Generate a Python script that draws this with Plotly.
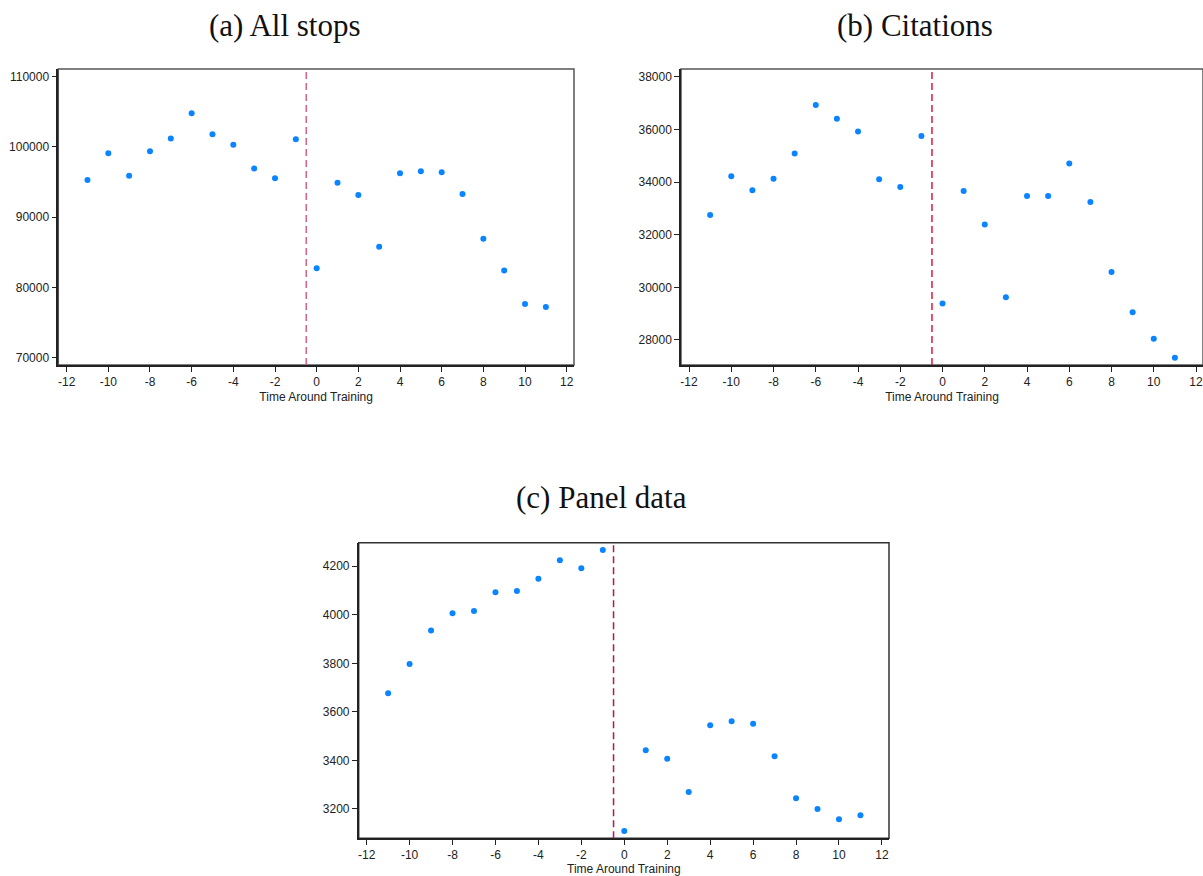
import plotly.graph_objects as go

W, H = 1203, 876

time = list(range(-11, 12))

all_stops = [95300, 99100, 95900, 99400, 101200, 104800, 101800, 100300, 96950, 95550, 101100,
             82750, 94900, 93150, 85800, 96250, 96550, 96400, 93300, 86950, 82400, 77650, 77200]
citations = [32750, 34220, 33690, 34120, 35080, 36920, 36400, 35920, 34100, 33810, 35750,
             29390, 33660, 32390, 29620, 33470, 33470, 34700, 33240, 30580, 29050, 28050, 27330]
panel_data = [3677, 3797, 3935, 4006, 4016, 4093, 4098, 4148, 4225, 4192, 4267,
              3109, 3442, 3407, 3270, 3545, 3561, 3551, 3417, 3244, 3200, 3158, 3174]

x_ticks = list(range(-12, 13, 2))
x_ticklabels = [str(v) for v in x_ticks]
a_ticks = [70000, 80000, 90000, 100000, 110000]
b_ticks = [28000, 30000, 32000, 34000, 36000, 38000]
c_ticks = [3200, 3400, 3600, 3800, 4000, 4200]

panel_titles = ["(a) All stops", "(b) Citations", "(c) Panel data"]
x_title = "Time Around Training"
treat_line = -0.5

marker_color = "#0a84ff"
line_colors = ["#d4628a", "#e0183f", "#b3164c"]


def px_x(p):
    return p / W


def px_y(p):
    return 1 - p / H


# plot areas in pixels: (left, right, top, bottom)
boxes = [(58.3, 574, 69, 365), (681, 1203, 69, 365), (358.7, 889, 542.7, 838.3)]
xranges = [[-12.4, 12.35], [-12.38, 12.33], [-12.37, 12.33]]
yranges = [[68960, 111100], [27050, 38292], [3079, 4297]]
yticks = [a_ticks, b_ticks, c_ticks]
series = [all_stops, citations, panel_data]
border_cols = ["#555555", "#555555", "#333333"]

fig = go.Figure()
layout = dict(
    width=W, height=H, margin=dict(l=0, r=0, t=0, b=0),
    paper_bgcolor="white", plot_bgcolor="white", showlegend=False,
    font=dict(family="Liberation Sans, Arial, sans-serif", size=12, color="#222222"),
)
shapes = []
annotations = []
for i in range(3):
    sfx = "" if i == 0 else str(i + 1)
    l, r, t, b = boxes[i]
    fig.add_trace(go.Scatter(
        x=time, y=series[i], mode="markers", xaxis="x" + sfx, yaxis="y" + sfx,
        marker=dict(color=marker_color, size=6), hoverinfo="x+y"))
    layout["xaxis" + sfx] = dict(
        domain=[px_x(l), px_x(r)], range=xranges[i], anchor="y" + sfx,
        tickmode="array", tickvals=x_ticks, ticktext=x_ticklabels,
        ticks="outside", ticklen=5, tickwidth=1, ticklabeloverflow="allow",
        tickcolor="#222222", showline=True, linecolor="#222222", linewidth=1.5,
        showgrid=False, zeroline=False,
        title=dict(text=x_title, font=dict(size=12, color="#222222"), standoff=4),
        tickfont=dict(size=12))
    layout["yaxis" + sfx] = dict(
        domain=[px_y(b), px_y(t)], range=yranges[i], anchor="x" + sfx,
        tickmode="array", tickvals=yticks[i], ticktext=[str(v) for v in yticks[i]],
        ticks="outside", ticklen=5, tickwidth=1,
        tickcolor="#222222", showline=True, linecolor="#222222", linewidth=1.5,
        showgrid=False, zeroline=False, tickfont=dict(size=12))
    shapes.append(dict(type="rect", xref="x" + sfx + " domain", yref="y" + sfx + " domain",
                       x0=0, x1=1, y0=0, y1=1, line=dict(color=border_cols[i], width=1.5),
                       layer="below"))
    shapes.append(dict(type="line", xref="x" + sfx, yref="y" + sfx + " domain",
                       x0=treat_line, x1=treat_line, y0=0, y1=1,
                       line=dict(color=line_colors[i], width=1.5, dash="7px,4px")))

title_pos = [(285, 25), (915, 25), (601, 497)]
for i in range(3):
    annotations.append(dict(
        text=panel_titles[i], x=px_x(title_pos[i][0]), y=px_y(title_pos[i][1]),
        xref="paper", yref="paper", xanchor="center", yanchor="middle", showarrow=False,
        font=dict(family="Liberation Serif, Times New Roman, serif", size=31, color="#111111")))

layout["shapes"] = shapes
layout["annotations"] = annotations
fig.update_layout(**layout)
fig.write_html(
    "out.html",
    post_script=("document.documentElement.style.overflow='hidden';"
                 "document.body.style.overflow='hidden';document.body.style.margin='0';"),
)
